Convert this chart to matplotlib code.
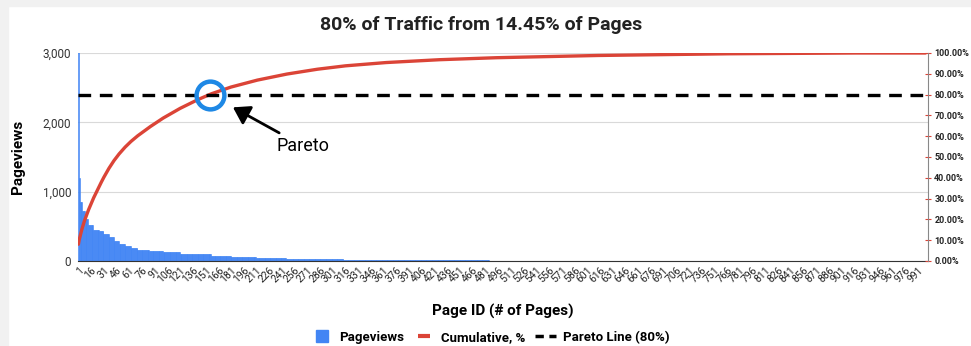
import numpy as np
import matplotlib
matplotlib.use("Agg")
import matplotlib.pyplot as plt
from matplotlib.patches import Rectangle
from matplotlib.lines import Line2D
from matplotlib.ticker import FuncFormatter, MultipleLocator

plt.rcParams['font.family'] = ['Roboto', 'DejaVu Sans']

# pageviews per page: (value, number of pages)
view_levels = [4300, 1200, 850, 720, 600, 520, 450, 430, 390, 340, 290,
               250, 215, 185, 160, 145, 125, 108, 95, 75, 58, 45, 35, 27,
               18, 12, 8, 5, 3, 1.5, 0]
view_counts = [1, 1, 3, 3, 4, 6, 7, 5, 6, 6, 6,
               7, 7, 8, 14, 16, 20, 20, 17, 23, 30, 35, 35, 33,
               47, 60, 65, 115, 150, 150, 100]
pareto_level = 0.80
tick_pages = list(range(1, 1000, 15))

views = np.repeat(view_levels, view_counts).astype(float)
pages = np.arange(1, len(views) + 1)
cumulative = np.cumsum(views) / views.sum()
cross_page = pages[np.argmax(cumulative >= pareto_level)]

blue = '#4285F4'
red = '#DB4437'

fig = plt.figure(figsize=(9.71, 3.46), dpi=100)
fig.patches.append(Rectangle((0, 0), 8 / 971, 1, transform=fig.transFigure,
                             color='#f1f1f1', zorder=-1))
fig.patches.append(Rectangle((0, 1 - 6 / 346), 1, 6 / 346, transform=fig.transFigure,
                             color='#f1f1f1', zorder=-1))
ax = fig.add_axes([78 / 971, 1 - 261 / 346, 850 / 971, 208 / 346])
ax2 = ax.twinx()

ax.bar(pages, views, width=1.0, color=blue, edgecolor=blue, linewidth=0.4)
ax.set_xlim(0.5, 1003)
ax.set_ylim(0, 3000)
ax.yaxis.set_major_locator(MultipleLocator(1000))
ax.yaxis.set_major_formatter(FuncFormatter(lambda v, p: f'{int(v):,}'))
ax.grid(axis='y', color='#d9d9d9', linewidth=0.8)
ax.set_axisbelow(True)
ax.set_xticks(tick_pages)
ax.set_xticklabels([str(t) for t in tick_pages], rotation=45, ha='right',
                   rotation_mode='anchor', fontsize=7.5, color='#222222')
ax.tick_params(axis='x', length=0, pad=3)
ax.tick_params(axis='y', length=0, labelsize=8.5, labelcolor='#333333', pad=5)
for s in ['top', 'right', 'left']:
    ax.spines[s].set_visible(False)
ax.spines['bottom'].set_color('#333333')
ax.set_ylabel('Pageviews', fontsize=11, fontweight='bold', labelpad=13)
ax.set_xlabel('Page ID (# of Pages)', fontsize=11, fontweight='bold', labelpad=14)

ax2.plot(pages, cumulative, color=red, linewidth=2.4, solid_capstyle='round')
ax2.plot([0.5, 1003], [pareto_level, pareto_level], color='black',
         linewidth=2.4, dashes=(3.8, 2.6))
ax2.set_ylim(0, 1)
ax2.yaxis.set_major_locator(MultipleLocator(0.1))
ax2.yaxis.set_major_formatter(FuncFormatter(lambda v, p: f'{v * 100:.2f}%'))
ax2.tick_params(axis='y', direction='inout', length=5, width=0.8, color=red,
                labelsize=6.5, labelcolor='#222222', pad=2)
for lab in ax2.get_yticklabels():
    lab.set_fontweight('bold')
for s in ['top', 'left', 'bottom']:
    ax2.spines[s].set_visible(False)
ax2.spines['right'].set_color('#888888')

ax2.plot([cross_page], [pareto_level], marker='o', markersize=20,
         markerfacecolor='none', markeredgecolor='#1E88E5', markeredgewidth=3.2,
         zorder=5)
ax2.annotate('Pareto', xy=(cross_page, pareto_level), xytext=(48, -37),
             textcoords='offset points', fontsize=13, ha='left', va='center',
             arrowprops=dict(arrowstyle='-|>,head_length=0.7,head_width=0.45',
                             color='black', lw=2, shrinkB=19, mutation_scale=14))

fig.suptitle('80% of Traffic from 14.45% of Pages', x=0.495, y=0.955,
             fontsize=14, fontweight='bold', color='#222222')

handles = [Line2D([], [], color=blue, marker='s', markersize=8, linestyle='none'),
           Line2D([], [], color=red, marker='_', markersize=8, markeredgewidth=3,
                  linestyle='none'),
           Line2D([], [], color='black', linewidth=2.5, dashes=(2.4, 1.6))]
fig.legend(handles, ['Pageviews', 'Cumulative, %', 'Pareto Line (80%)'],
           loc='center', bbox_to_anchor=(0.505, 0.025), ncol=3, frameon=False,
           prop={'size': 9.5, 'weight': 'bold'}, handlelength=1.6,
           columnspacing=0.7, handletextpad=0.5)

fig.savefig('out.png', dpi=100)
